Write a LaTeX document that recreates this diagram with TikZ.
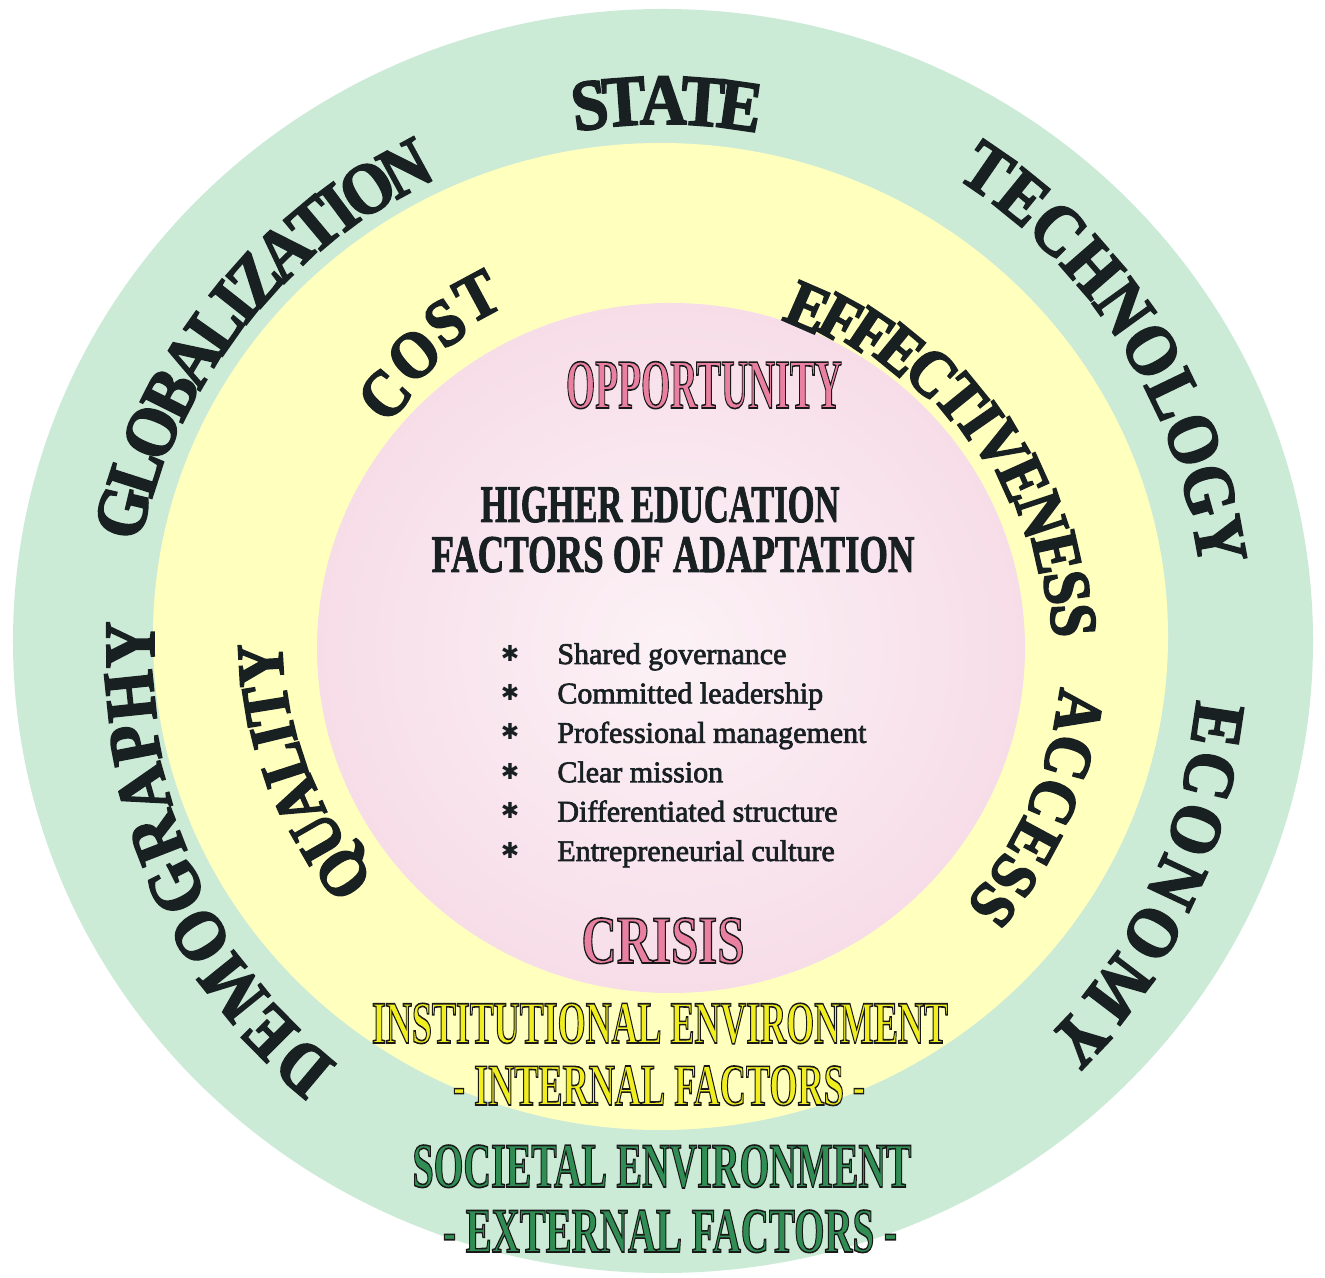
\documentclass[tikz,border=0pt]{standalone}
\usepackage{fontspec}
\usepackage{graphicx}
\setmainfont{Liberation Serif}
\newfontfamily\arcfont{Liberation Serif}[FakeStretch=0.9]
\newfontfamily\plainserif{Liberation Serif}
\newfontfamily\symfont{DejaVu Sans}

\definecolor{ringgreen}{RGB}{204,235,215}
\definecolor{ringyellow}{RGB}{255,255,190}
\definecolor{corepinkin}{RGB}{252,242,246}
\definecolor{corepinkout}{RGB}{247,221,232}
\definecolor{inkdark}{RGB}{24,32,34}
\definecolor{txtpink}{RGB}{233,128,162}
\definecolor{txtyellow}{RGB}{240,238,30}
\definecolor{txtgreen}{RGB}{48,142,84}

% scratch storage
\newsavebox\fitbox
\newdimen\awsumd

% squeeze a box horizontally to a given width (in picture pixels, 1px = 0.5pt)
\newcommand\fitx[2]{\sbox\fitbox{#2}%
  \pgfmathsetmacro\fitscale{#1*0.5/\the\wd\fitbox}\scalebox{\fitscale}[1]{\usebox\fitbox}}

% filled letters with a dark outline
\newcommand\outlined[2]{{\color{#1}\special{pdf:literal direct 0.1 0.1 0.1 RG 2 Tr 0.8 w}#2\special{pdf:literal direct 0 Tr}}}
% letters stroked in their own colour to make them heavier
\newcommand\heavy[2]{\special{pdf:literal direct 2 Tr #1 w}#2\special{pdf:literal direct 0 Tr}}

\newcommand\outerarc{\arcfont\bfseries\fontsize{36}{36}\selectfont}
\newcommand\innerarc{\arcfont\bfseries\fontsize{33}{33}\selectfont}

% letter centres of a word, measured once before the picture
% #1 name, #2 font, #3 letters
\newcommand\measureword[3]{%
  \global\awsumd=0pt
  \foreach \ch [count=\i] in {#3}{%
    \setbox\fitbox=\hbox{#2\ch}%
    \pgfmathsetmacro\awtmp{\the\awsumd+0.5*\the\wd\fitbox}%
    \expandafter\xdef\csname awc-#1-\i\endcsname{\awtmp}%
    \global\advance\awsumd by \wd\fitbox
    \xdef\awcount{\i}%
  }%
  \expandafter\xdef\csname awn-#1\endcsname{\awcount}%
}

% letters set clockwise along an arc, tops outward
% #1 name, #2 font, #3 letters, #4/#5 angle of first/last letter,
% #6/#7 baseline radius at first/last letter
\newcommand\arcword[7]{%
  \edef\awn{\csname awn-#1\endcsname}%
  \edef\awca{\csname awc-#1-1\endcsname}%
  \edef\awcb{\csname awc-#1-\awn\endcsname}%
  \foreach \ch [count=\i] in {#3}{%
    \edef\awci{\csname awc-#1-\i\endcsname}%
    \pgfmathsetmacro\awt{(\awci-\awca)/(\awcb-\awca)}%
    \pgfmathsetmacro\awth{#4+\awt*((#5)-(#4))}%
    \pgfmathsetmacro\awr{#6+\awt*((#7)-(#6))}%
    \pgfmathsetmacro\awrot{\awth-90}%
    \node[arcletter,rotate=\awrot] (#1-\i) at (\awth:\awr) {#2\heavy{0.9}{\ch}};
  }%
}

\begin{document}
\measureword{state}{\outerarc}{S,T,A,T,E}%
\measureword{tech}{\outerarc}{T,E,C,H,N,O,L,O,G,Y}%
\measureword{econ}{\outerarc}{E,C,O,N,O,M,Y}%
\measureword{demo}{\outerarc}{D,E,M,O,G,R,A,P,H,Y}%
\measureword{glob}{\outerarc}{G,L,O,B,A,L,I,Z,A,T,I,O,N}%
\measureword{cost}{\innerarc}{C,O,S,T}%
\measureword{effect}{\innerarc}{E,F,F,E,C,T,I,V,E,N,E,S,S}%
\measureword{access}{\innerarc}{A,C,C,E,S,S}%
\measureword{quality}{\innerarc}{Q,U,A,L,I,T,Y}%
\begin{tikzpicture}[x=0.5pt,y=0.5pt,
  arcletter/.style={anchor=base,inner sep=0pt,text=inkdark},
  headline/.style={anchor=base,inner sep=0pt,text=inkdark},
  factor/.style={anchor=base west,inner sep=0pt,text=inkdark,
    font=\plainserif\fontsize{15}{15}\selectfont},
  star/.style={anchor=center,inner sep=0pt,text=inkdark,
    font=\symfont\fontsize{11}{11}\selectfont},
  banner/.style={anchor=base,inner sep=0pt}]

\fill[white] (-663,-636) rectangle (662,641);
\path[use as bounding box] (-663,-636) rectangle (662,641);

% environment discs
\fill[ringgreen] (0,0) ellipse [x radius=650, y radius=632];
\fill[ringyellow] (-2.5,4.5) ellipse [x radius=507.5, y radius=493.5];
\shade[inner color=corepinkin, outer color=corepinkout]
  (8,-7) ellipse [x radius=354, y radius=345];

% external factors
\arcword{state}{\outerarc}{S,T,A,T,E}{97.8}{81.8}{517}{517}
\arcword{tech}{\outerarc}{T,E,C,H,N,O,L,O,G,Y}{55.5}{10.3}{548}{542}
\arcword{econ}{\outerarc}{E,C,O,N,O,M,Y}{-8.6}{-43.6}{537}{552}
\arcword{demo}{\outerarc}{D,E,M,O,G,R,A,P,H,Y}{229.9}{180.4}{534}{509}
\arcword{glob}{\outerarc}{G,L,O,B,A,L,I,Z,A,T,I,O,N}{166.6}{118.6}{532}{515}

% internal factors
\arcword{cost}{\innerarc}{C,O,S,T}{138.5}{118.3}{350}{370}
\arcword{effect}{\innerarc}{E,F,F,E,C,T,I,V,E,N,E,S,S}{66.5}{2.9}{342}{389}
\arcword{access}{\innerarc}{A,C,C,E,S,S}{-9.7}{-38.7}{400}{401}
\arcword{quality}{\innerarc}{Q,U,A,L,I,T,Y}{216}{183.4}{374}{381}

% core
\node[banner] (opp) at (41,233)
  {\fitx{276}{\outlined{txtpink}{\plainserif\bfseries\fontsize{35}{35}\selectfont OPPORTUNITY}}};
\node[headline] (he) at (-3,119)
  {\fitx{359}{\plainserif\bfseries\fontsize{26.5}{26.5}\selectfont\heavy{0.5}{HIGHER EDUCATION}}};
\node[headline] (foa) at (10,69)
  {\fitx{483}{\plainserif\bfseries\fontsize{26.5}{26.5}\selectfont\heavy{0.5}{FACTORS OF ADAPTATION}}};

\foreach \txt [count=\k] in {Shared governance,Committed leadership,
    Professional management,Clear mission,Differentiated structure,
    Entrepreneurial culture}{
  \pgfmathsetmacro\yy{-23-39.4*(\k-1)}
  \pgfmathsetmacro\ys{\yy+11}
  \node[star] (star-\k) at (-153,\ys) {✱};
  \node[factor] (item-\k) at (-106,\yy) {\heavy{0.35}{\txt}};
}

\node[banner] (crisis) at (0,-322)
  {\fitx{163}{\outlined{txtpink}{\plainserif\bfseries\fontsize{34}{34}\selectfont CRISIS}}};
\node[banner] (inst) at (-3,-402)
  {\fitx{576}{\outlined{txtyellow}{\plainserif\bfseries\fontsize{30}{30}\selectfont INSTITUTIONAL ENVIRONMENT}}};
\node[banner] (internal) at (-4,-464)
  {\fitx{412}{\outlined{txtyellow}{\plainserif\bfseries\fontsize{29.5}{29.5}\selectfont - INTERNAL FACTORS -}}};
\node[banner] (soc) at (-1,-546)
  {\fitx{499}{\outlined{txtgreen}{\plainserif\bfseries\fontsize{31.7}{31.7}\selectfont SOCIETAL ENVIRONMENT}}};
\node[banner] (external) at (7,-611)
  {\fitx{454}{\outlined{txtgreen}{\plainserif\bfseries\fontsize{31.7}{31.7}\selectfont - EXTERNAL FACTORS -}}};
\end{tikzpicture}
\end{document}
